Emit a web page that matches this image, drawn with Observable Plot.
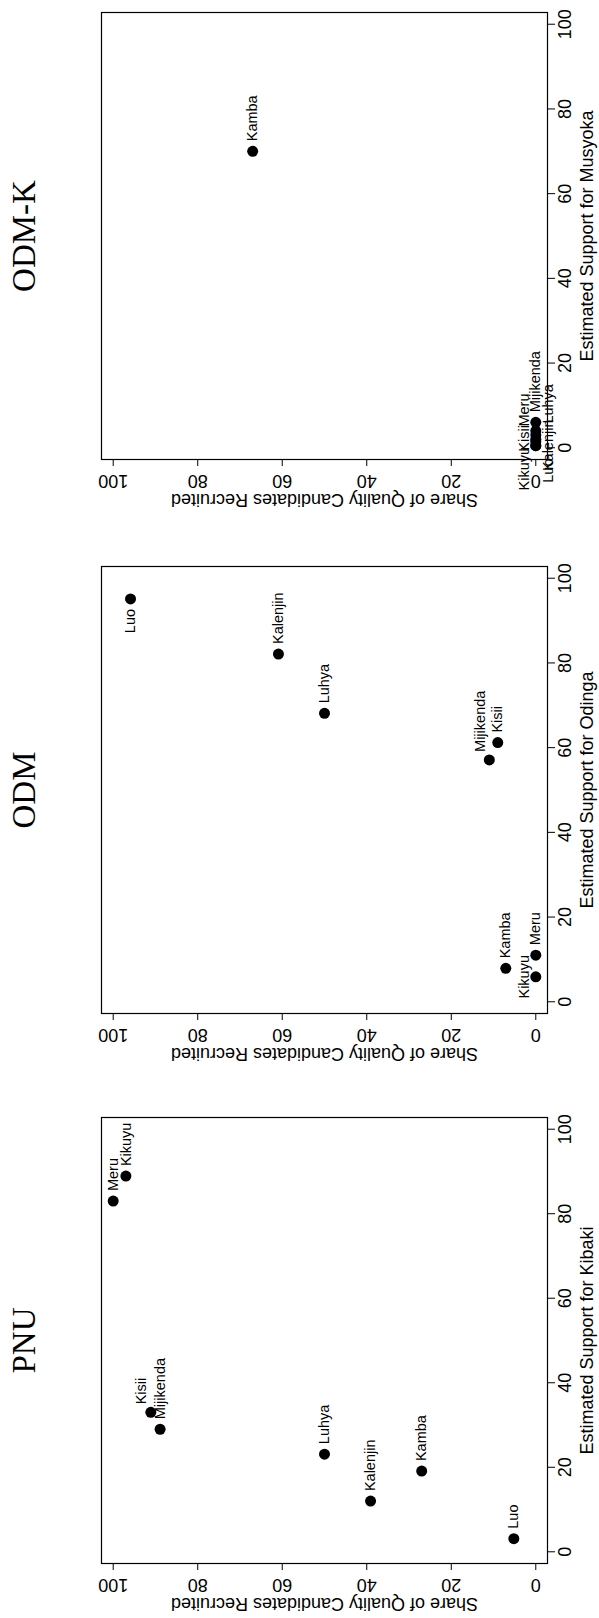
<!DOCTYPE html>
<html><head><meta charset="utf-8">
<script src="https://cdn.jsdelivr.net/npm/d3@7"></script>
<script src="https://cdn.jsdelivr.net/npm/@observablehq/plot@0.6"></script>
<style>
html,body{margin:0;padding:0;background:#fff}
#chart svg{display:block}
</style>
</head><body><div id="chart"></div>
<script>
// Ethnic groups (same order in every series)
const groups = ["Kikuyu","Meru","Kisii","Mijikenda","Luhya","Kalenjin","Kamba","Luo"];

// Panel titles and axis titles
const panelTitles = ["ODM-K","ODM","PNU"];
const supportTitles = ["Estimated Support for Musyoka","Estimated Support for Odinga","Estimated Support for Kibaki"];
const shareTitle = "Share of Quality Candidates Recruited";
const tickValues = [0,20,40,60,80,100];

// ODM-K
const odmkShare   = [0, 0, 0, 0, 0, 0, 67.0, 0];
const odmkSupport = [0.5, 3.0, 1.5, 6.0, 4.0, 2.0, 70.0, 0.5];
// ODM
const odmShare    = [0, 0, 9.0, 11.0, 50.0, 60.9, 7.1, 95.9];
const odmSupport  = [5.9, 11.0, 61.2, 57.1, 68.1, 82.1, 7.9, 95.1];
// PNU
const pnuShare    = [97.0, 100, 91.1, 88.9, 50.0, 39.1, 27.0, 5.2];
const pnuSupport  = [88.9, 83.0, 33.0, 29.0, 23.1, 12.0, 19.1, 3.1];

// label side relative to the point (in the unrotated chart)
const odmkSide = ["above","above","above","right","below","below","right","below"];
const odmSide  = ["above","right","right","aboveRight","right","right","right","left"];
const pnuSide  = ["right","right","aboveRight","right","right","right","right","right"];

const sans = "'Liberation Sans', Arial, Helvetica, sans-serif";
const serif = "'Liberation Serif', 'Times New Roman', Times, serif";

// rotated page: unrotated "right" is screen up, "above" is screen left
const placements = {
  right:      {dx: 0,  dy: -10, textAnchor: "start",  lineAnchor: "middle"},
  left:       {dx: 0,  dy: 10,  textAnchor: "end",    lineAnchor: "middle"},
  above:      {dx: -7, dy: 0,   textAnchor: "middle", lineAnchor: "bottom"},
  below:      {dx: 7,  dy: 0,   textAnchor: "middle", lineAnchor: "top"},
  aboveRight: {dx: -9, dy: -8,  textAnchor: "start",  lineAnchor: "middle"}
};
// extra screen shifts for the crowded ODM-K labels near the origin
const odmkNudge = {Kikuyu: 23, Meru: -25, Kisii: -3, Luhya: -27, Kalenjin: 6, Luo: 25};

function panel(title, supportTitle, share, support, side, nudge, height, marginBottom) {
  const data = groups.map((g, i) => ({group: g, share: share[i], support: support[i], side: side[i]}));
  const labelMarks = data.map(d => {
    const p = placements[d.side];
    return Plot.text([d], {
      x: "share", y: "support", text: "group", rotate: -90,
      fontSize: 14.5, fill: "black", textAnchor: p.textAnchor, lineAnchor: p.lineAnchor,
      dx: p.dx, dy: p.dy + (nudge[d.group] || 0)
    });
  });
  return Plot.plot({
    width: 599, height,
    marginLeft: 101, marginRight: 52, marginTop: 12, marginBottom,
    style: {fontFamily: sans, background: "white", color: "black"},
    x: {domain: [102.77, -2.77], label: null},
    y: {domain: [-2.77, 102.77], label: null},
    marks: [
      Plot.frame({stroke: "black", strokeWidth: 1.2}),
      Plot.axisX({anchor: "bottom", ticks: tickValues, tickSize: 7, tickPadding: 14, tickRotate: 180,
                  textAnchor: "middle", lineAnchor: "middle", fontSize: 18, label: null, stroke: "black"}),
      Plot.axisY({anchor: "right", ticks: tickValues, tickSize: 7, tickPadding: 11, tickRotate: -90,
                  textAnchor: "middle", lineAnchor: "middle", fontSize: 18, label: null, stroke: "black"}),
      Plot.text([supportTitle], {frameAnchor: "right", dx: 40, rotate: -90, fontSize: 18,
                                 textAnchor: "middle", lineAnchor: "middle"}),
      Plot.text([shareTitle], {frameAnchor: "bottom", dy: 40, rotate: 180, fontSize: 18,
                               textAnchor: "middle", lineAnchor: "middle"}),
      Plot.text([title], {frameAnchor: "left", dx: -77, rotate: -90, fontSize: 33, fontFamily: serif,
                          textAnchor: "middle", lineAnchor: "middle"}),
      Plot.dot(data, {x: "share", y: "support", r: 5.5, fill: "black", stroke: null}),
      ...labelMarks
    ]
  });
}

const chart = document.getElementById("chart");
chart.append(panel(panelTitles[0], supportTitles[0], odmkShare, odmkSupport, odmkSide, odmkNudge, 554, 95));
chart.append(panel(panelTitles[1], supportTitles[1], odmShare, odmSupport, odmSide, {}, 551, 92));
chart.append(panel(panelTitles[2], supportTitles[2], pnuShare, pnuSupport, pnuSide, {}, 513, 55));
</script>
</body></html>
